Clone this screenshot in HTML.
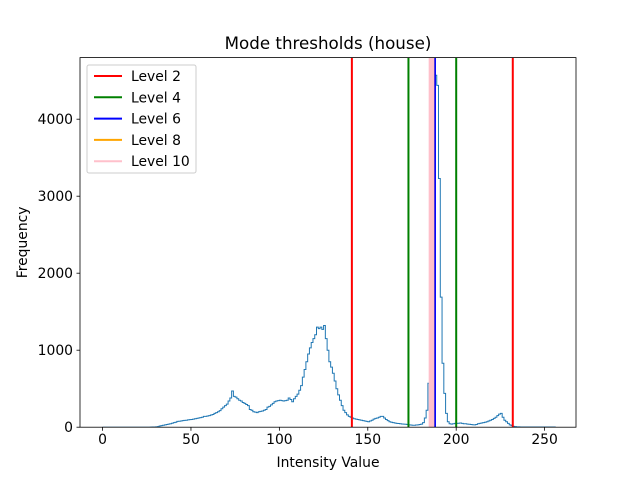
<!DOCTYPE html>
<html><head><meta charset="utf-8"><style>
body{margin:0;background:#fff;}
svg{display:block;font-family:"DejaVu Sans","Liberation Sans",sans-serif;}
</style></head><body>
<svg id="chart" width="640" height="480" viewBox="0 0 640 480" xmlns="http://www.w3.org/2000/svg">
<rect width="640" height="480" fill="#fff"/>
<text x="328" y="49" text-anchor="middle" font-size="16.7">Mode thresholds (house)</text>
<text x="328" y="467" text-anchor="middle" font-size="13.9">Intensity Value</text>
<text transform="translate(27,242.4) rotate(-90)" text-anchor="middle" font-size="13.9">Frequency</text>
<g id="plot"></g>
</svg>
<script>
const counts = [
0,0,0,0,0,0,0,0,0,0,
0,0,0,0,0,0,0,0,0,0,
0,0,0,0,0,0,0,1,2,3,
5,8,15,20,25,30,35,40,45,52,
60,65,75,78,80,85,88,90,95,98,
100,105,110,115,120,125,130,140,140,145,
150,158,165,180,190,200,215,240,260,280,
300,340,380,470,400,390,370,350,340,320,
310,295,280,230,220,200,195,190,200,205,
210,220,230,260,270,290,310,330,340,345,
350,345,340,345,350,380,360,330,370,400,
430,480,540,650,750,850,950,1030,1100,1150,
1200,1300,1280,1300,1270,1320,1150,1000,850,780,
700,600,500,420,350,280,220,190,160,140,
130,120,110,105,100,95,90,85,80,75,
70,80,90,105,115,120,130,140,140,120,
100,85,70,65,60,55,50,48,45,42,
40,38,35,30,28,25,25,28,30,35,
40,60,120,220,570,900,2000,3000,4570,4440,
3230,1690,830,440,180,70,45,40,45,50,
50,52,55,50,45,45,40,38,35,32,
30,35,45,50,55,60,65,70,80,90,
100,115,130,150,170,180,130,90,70,50,
30,20,10,8,5,4,3,3,2,2,
2,2,2,2,2,2,2,2,2,2,
2,2,2,2,2,2];
const xTicks = [0,50,100,150,200,250];
const yTicks = [0,1000,2000,3000,4000];
const levelNames = ["Level 2","Level 4","Level 6","Level 8","Level 10"];
const levelColors = ["red","green","blue","orange","pink"];
const level2 = [141,232];
const level4 = [173,200];
const level6 = [188];
const level8 = [187];
const level10 = [185,186,187];
const levels = [level2,level4,level6,level8,level10];

const L=80,R=576,T=57.6,B=427.2;
const xMin=-12.75,xMax=267.75,yMin=0,yMax=4800;
const X=v=>L+(v-xMin)/(xMax-xMin)*(R-L);
const Y=v=>B-(v-yMin)/(yMax-yMin)*(B-T);
const NS="http://www.w3.org/2000/svg";
const g=document.getElementById('plot');
function mk(tag,attrs,parent){const e=document.createElementNS(NS,tag);for(const k in attrs)e.setAttribute(k,attrs[k]);(parent||g).appendChild(e);return e;}

const clip=mk('clipPath',{id:'cp'});mk('rect',{x:L,y:T,width:R-L,height:B-T},clip);

let d='M'+X(0)+','+Y(0);
counts.forEach((c,i)=>{d+=' L'+X(i)+','+Y(c)+' L'+X(i+1)+','+Y(c);});
d+=' L'+X(counts.length)+','+Y(0);
const hist=mk('path',{d:d,fill:'none',stroke:'#1f77b4','stroke-width':1,'clip-path':'url(#cp)'});



levels.forEach((arr,li)=>{arr.forEach(v=>{
  const ln=mk('line',{x1:X(v),x2:X(v),y1:T,y2:B,stroke:levelColors[li],'stroke-width':2});
  
  
});});

const fr=mk('rect',{x:L,y:T,width:R-L,height:B-T,fill:'none',stroke:'#000','stroke-width':0.8});



xTicks.forEach(t=>{
  mk('line',{x1:X(t),x2:X(t),y1:B,y2:B+3.5,stroke:'#000','stroke-width':0.8});
  const tx=mk('text',{x:X(t),y:B+17,'text-anchor':'middle','font-size':13.9});
  tx.textContent=t;
  
  
});
yTicks.forEach(t=>{
  mk('line',{x1:L-3.5,x2:L,y1:Y(t),y2:Y(t),stroke:'#000','stroke-width':0.8});
  const tx=mk('text',{x:L-7,y:Y(t)+5,'text-anchor':'end','font-size':13.9});
  tx.textContent=t;
  
  
});

const lg=mk('g',{});


mk('rect',{x:87,y:65,width:109,height:108,rx:2,fill:'#fff','fill-opacity':0.8,stroke:'#ccc','stroke-width':1},lg);
levelNames.forEach((n,i)=>{
  const y=76+i*21.3;
  const e=mk('g',{},lg);
  
  
  mk('line',{x1:94,x2:122,y1:y,y2:y,stroke:levelColors[i],'stroke-width':2},e);
  const t=mk('text',{x:131,y:y+5,'font-size':13.9},e);
  t.textContent=n;
});
</script>
</body></html>
